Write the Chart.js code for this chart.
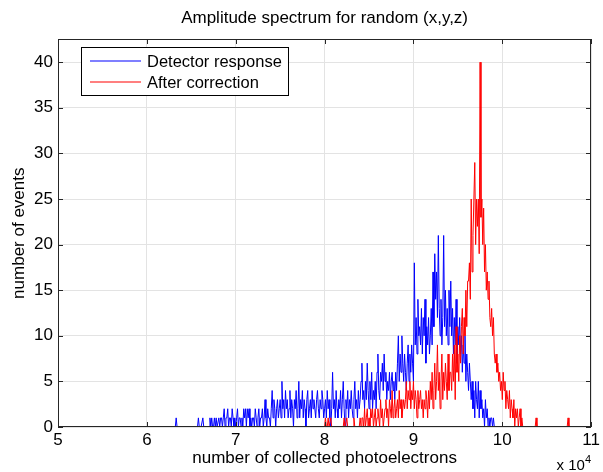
<!DOCTYPE html>
<html>
<head>
<meta charset="utf-8">
<script src="https://cdn.jsdelivr.net/npm/chart.js@4.4.0/dist/chart.umd.min.js"></script>
<style>
  html, body { margin: 0; padding: 0; background: #fff; }
</style>
</head>
<body>
<canvas id="spectrum" width="603" height="472"></canvas>
<script>
// Histogram bins, 100 photoelectrons wide
const binWidth = 100;

// Detector response, first bin at 63000
const detectorStart = 63000;
const detectorCounts = [
    0,0,0,1,0,0,0,0,0,0, 0,0,0,0,0,0,0,0,0,0,
    0,0,0,0,0,0,0,0,1,0, 0,0,0,1,0,0,0,0,0,0,
    0,1,0,1,0,0,1,0,1,0, 0,1,0,1,1,0,1,2,0,1,
    1,2,0,1,1,0,2,1,0,1, 0,1,2,0,1,1,0,1,0,2,
    1,2,0,2,1,2,0,1,0,1, 1,0,2,1,0,1,2,0,1,1,
    2,0,1,3,1,0,2,1,1,0, 2,4,1,3,2,0,2,3,1,2,
    3,1,5,2,3,1,4,2,3,1, 2,4,1,3,2,0,3,2,4,1,
    2,5,1,3,2,4,1,3,2,0, 3,4,1,2,3,1,4,2,3,2,
    1,3,4,2,1,3,2,4,3,1, 2,3,1,4,2,3,1,0,2,6,
    2,3,1,4,2,1,3,2,4,1, 3,5,2,0,3,2,4,1,3,2,
    4,2,1,3,5,2,3,1,4,2, 3,5,7,3,4,2,5,3,7,4,
    2,5,3,6,2,4,3,5,2,6, 8,4,3,6,5,7,4,8,5,6,
    3,5,4,6,3,5,6,4,5,3, 6,4, 7,10,5,8,6,10,7,5,8,6,
    4,7,9,5,8,6,9,7,5,18, 9,12,8,14,10,11,9,13,8,12,
    10,14,7,11,9,12,8,10,13,9, 17,11,19,14,17,12,21,13,10,14,
    9,12,21,11,15,10,13,9,15,11, 16,10,13,8,12,9,14,7,11,9,
    12,8,10,6,9,7,10,5,8,6, 4,7,5,3,5,2,4,1,5,3,
    2,5,1,4,2,3,1,2,0,3, 1,2,0,1,0,1,1,0,1,0,
    0
];

// After correction, first bin at 80000
const correctedStart = 80000;
const correctedCounts = [
    0,1,0,0,1,0,0,1,0,0, 0,0,0,0,0,0,0,0,0,0,
    0,0,1,0,0,1,0,0,0,0, 0,0,0,1,0,0,0,0,0,0,
    1,0,1,1,0,2,0,1,2,0, 1,0,2,1,2,0,1,2,0,1,
    2,1,0,3,1,2,0,1,2,3, 1,2,0,3,2,1,4,1,2,3,
    1,2,3,1,4,2,3,1,2,3, 2,3, 5,2,4,3,5,2,4,3,5,2,
    4,3,1,4,2,3,4,2,3,1, 3,2,4,3,1,4,2,5,3,6,
    2,4,7,3,5,9,4,6,2,5, 8,3,6,4,7,5,3,8,4,6,
    6,4,8,5,9,3,11,6,8,5, 10,7,11,13,8,12,10,15,11,16,
    16,18,14,25,17,21,25,29,20,25, 22,25,19,40,23,25,20,24,17,20,
    15,17,14,16,12,11,13,10,12,8, 7,8,6,7,5,6,4,5,3,6,
    4,5,2,4,3,2,4,1,3,2, 1,3,0,2,1,2,0,1,2,0,
    1,0,0,0,0,0,0,0,0,0, 0,0,0,0,0,0,1,0,0,0,
    0,0,0,0,0,0,0,0,0,0, 0,0,0,0,0,0,0,0,0,0,
    0,0,0,0,0,0,0,0,0,0, 0,0,1,0,0,0
];

const xMin = 50000, xMax = 110000, xStep = 10000;
const yMin = 0, yMax = 42.5, yStep = 5;

const FONT = '"Liberation Sans", Arial, sans-serif';
const INK = '#000000';
const FRAME = '#262626';
const BLUE = '#0000ff';
const RED = '#ff0000';

function toPoints(start, counts) {
    return counts.map((c, i) => ({ x: start + i * binWidth, y: c }));
}

// Box, inward ticks, exponent label and legend drawn MATLAB style
const matlabFrame = {
    id: 'matlabFrame',
    afterDraw(chart) {
        const { ctx, chartArea: a, scales: { x, y } } = chart;
        const L = Math.round(a.left), R = Math.round(a.right);
        const T = Math.round(a.top), B = Math.round(a.bottom);
        ctx.save();
        ctx.strokeStyle = FRAME;
        ctx.lineWidth = 1;
        ctx.beginPath();
        x.ticks.forEach(t => {
            const px = Math.round(x.getPixelForValue(t.value)) + 0.5;
            ctx.moveTo(px, B); ctx.lineTo(px, B - 5);
            ctx.moveTo(px, T); ctx.lineTo(px, T + 5);
        });
        y.ticks.forEach(t => {
            const py = Math.round(y.getPixelForValue(t.value)) + 0.5;
            ctx.moveTo(L, py); ctx.lineTo(L + 5, py);
            ctx.moveTo(R, py); ctx.lineTo(R - 5, py);
        });
        ctx.stroke();
        ctx.strokeRect(L + 0.5, T + 0.5, R - L - 1, B - T - 1);

        // x 10^4
        ctx.fillStyle = INK;
        ctx.textBaseline = 'alphabetic';
        ctx.textAlign = 'right';
        ctx.font = '11px ' + FONT;
        ctx.fillText('4', R, 463);
        const w4 = ctx.measureText('4').width;
        ctx.font = '15px ' + FONT;
        ctx.fillText('x 10', R - w4, 470);

        // legend
        const lx = L + 23, ly = T + 8, lw = 207, lh = 48;
        ctx.fillStyle = '#ffffff';
        ctx.fillRect(lx, ly, lw, lh);
        ctx.strokeStyle = INK;
        ctx.strokeRect(lx + 0.5, ly + 0.5, lw, lh);
        ctx.font = '16.5px ' + FONT;
        ctx.textAlign = 'left';
        ctx.textBaseline = 'middle';
        chart.data.datasets.forEach((ds, i) => {
            const ry = ly + 14 + i * 21;
            ctx.beginPath();
            ctx.strokeStyle = ds.borderColor;
            ctx.lineWidth = 1.2;
            ctx.moveTo(lx + 9, ry);
            ctx.lineTo(lx + 60, ry);
            ctx.stroke();
            ctx.fillStyle = INK;
            ctx.fillText(ds.label, lx + 66, ry + 1);
        });
        ctx.restore();
    }
};

new Chart(document.getElementById('spectrum'), {
    type: 'line',
    data: {
        datasets: [
            {
                label: 'Detector response',
                data: toPoints(detectorStart, detectorCounts),
                borderColor: BLUE,
                borderWidth: 1,
                pointRadius: 0,
                tension: 0,
                order: 1
            },
            {
                label: 'After correction',
                data: toPoints(correctedStart, correctedCounts),
                borderColor: RED,
                borderWidth: 1,
                pointRadius: 0,
                tension: 0,
                order: 0
            }
        ]
    },
    options: {
        responsive: false,
        animation: false,
        devicePixelRatio: 1,
        layout: { padding: { top: 0, right: 4, left: 0, bottom: 0 } },
        plugins: {
            legend: { display: false },
            tooltip: { enabled: false },
            title: {
                display: true,
                fullSize: false,
                text: 'Amplitude spectrum for random (x,y,z)',
                color: INK,
                font: { family: FONT, size: 17, weight: 'normal', lineHeight: 1.2 },
                padding: { top: 8, bottom: 11 }
            }
        },
        scales: {
            x: {
                type: 'linear',
                min: xMin,
                max: xMax,
                afterFit: s => { s.height = 45; },
                ticks: {
                    stepSize: xStep,
                    color: INK,
                    padding: 3,
                    maxRotation: 0,
                    font: { family: FONT, size: 17 },
                    callback: v => v / xStep
                },
                grid: { color: '#e3e3e3', drawTicks: false },
                border: { display: false },
                title: {
                    display: true,
                    text: 'number of collected photoelectrons',
                    color: INK,
                    font: { family: FONT, size: 17 },
                    padding: { top: 0, bottom: 3 }
                }
            },
            y: {
                min: yMin,
                max: yMax,
                afterFit: s => { s.width = 58; },
                afterBuildTicks: s => { s.ticks = s.ticks.filter(t => t.value % yStep === 0); },
                ticks: {
                    stepSize: yStep,
                    color: INK,
                    padding: 5,
                    font: { family: FONT, size: 17 }
                },
                grid: { color: '#e3e3e3', drawTicks: false },
                border: { display: false },
                title: {
                    display: true,
                    text: 'number of events',
                    color: INK,
                    font: { family: FONT, size: 17 },
                    padding: { top: 9, bottom: 0 }
                }
            }
        }
    },
    plugins: [matlabFrame]
});
</script>
</body>
</html>
